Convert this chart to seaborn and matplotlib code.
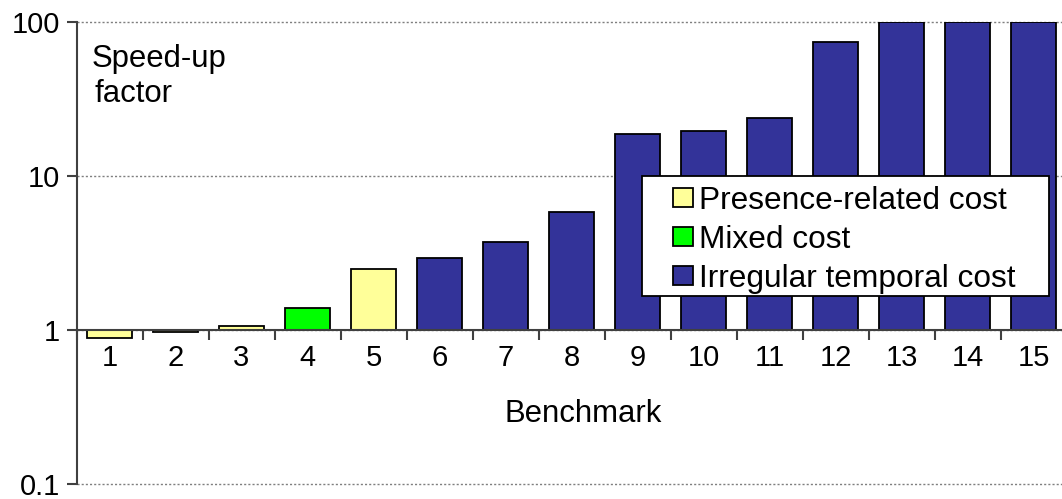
import numpy as np
import pandas as pd
import matplotlib
matplotlib.use("Agg")
import matplotlib.pyplot as plt
from matplotlib.patches import Rectangle
import seaborn as sns

# Benchmark results
benchmarks = [str(i) for i in range(1, 16)]
speedup = [0.89, 0.97, 1.06, 1.38, 2.5, 2.95, 3.7, 5.85, 18.7, 19.5, 23.8, 74, 100, 100, 100]
cost_type = ["Presence-related cost", "Presence-related cost", "Presence-related cost",
             "Mixed cost", "Presence-related cost",
             "Irregular temporal cost", "Irregular temporal cost", "Irregular temporal cost",
             "Irregular temporal cost", "Irregular temporal cost", "Irregular temporal cost",
             "Irregular temporal cost", "Irregular temporal cost", "Irregular temporal cost",
             "Irregular temporal cost"]
cost_order = ["Presence-related cost", "Mixed cost", "Irregular temporal cost"]
cost_colors = ["#FFFF99", "#00FF00", "#333399"]
y_tick_values = [0.1, 1, 10, 100]
y_tick_labels = ["0.1", "1", "10", "100"]

df = pd.DataFrame({"benchmark": benchmarks, "speedup": speedup, "cost": cost_type})
# bars rise or fall from a speed-up factor of 1 on a logarithmic axis
df["log_speedup"] = np.log10(df["speedup"])

sns.set_theme(style="white")
plt.rcParams["font.family"] = ["Liberation Sans", "DejaVu Sans"]
plt.rcParams["text.color"] = "black"
plt.rcParams["xtick.color"] = "black"
plt.rcParams["ytick.color"] = "black"
FS = 22.4
LEG_FS = 22.8
TICK_FS = 21

W, H = 1062, 499
fig = plt.figure(figsize=(W / 100, H / 100), dpi=100)
ax_left, ax_top, ax_bottom = 76.5, 22, 484
ax = fig.add_axes([ax_left / W, (H - ax_bottom) / H, 990 / W, (ax_bottom - ax_top) / H])


def axes_xy(px, py):
    """Pixel position (from the top-left corner) to axes fraction."""
    return (px - ax_left) / 990, (ax_bottom - py) / (ax_bottom - ax_top)


sns.barplot(data=df, x="benchmark", y="log_speedup", hue="cost",
            hue_order=cost_order, palette=cost_colors, dodge=False,
            width=0.68, edgecolor="black", linewidth=1.3, saturation=1,
            ax=ax, zorder=3)

ax.set_ylim(np.log10(y_tick_values[0]), np.log10(y_tick_values[-1]))
ax.set_xlim(-0.5, len(benchmarks) - 0.5)

# dotted reference lines at each decade
for v in y_tick_values:
    ax.axhline(np.log10(v), color="#7f7f7f", linestyle=(0, (1.5, 1.5)),
               linewidth=1.0, zorder=1, clip_on=False)

ax.set_yticks(np.log10(y_tick_values))
ax.set_yticklabels(y_tick_labels)
ax.tick_params(axis="y", direction="out", length=7, width=1.5, color="#404040",
               labelsize=TICK_FS, pad=5, left=True)

ax.set_xticks(range(len(benchmarks)))
ax.set_xticklabels(benchmarks)
ax.tick_params(axis="x", which="major", length=0, labelsize=TICK_FS, pad=10)
ax.set_xticks(np.arange(-0.5, len(benchmarks), 1.0), minor=True)
ax.tick_params(axis="x", which="minor", direction="out", length=7, width=1.5,
               color="#404040", bottom=True)

for side in ["top", "right"]:
    ax.spines[side].set_visible(False)
ax.spines["bottom"].set_position(("data", 0))
for side in ["left", "bottom"]:
    ax.spines[side].set_color("#404040")
    ax.spines[side].set_linewidth(1.5)
    ax.spines[side].set_zorder(4)

ax.set_xlabel("")
ax.set_ylabel("")
ax.text(*axes_xy(583, 422), "Benchmark", transform=ax.transAxes,
        ha="center", va="baseline", fontsize=FS)
ax.text(*axes_xy(91.5, 67), "Speed-up", transform=ax.transAxes,
        ha="left", va="baseline", fontsize=FS)
ax.text(*axes_xy(94.5, 102), "factor", transform=ax.transAxes,
        ha="left", va="baseline", fontsize=FS)

# legend box
ax.add_patch(Rectangle((642 / W, 1 - 296 / H), 407 / W, 120 / H,
                       transform=fig.transFigure, facecolor="white",
                       edgecolor="black", linewidth=1.3, zorder=4.5, clip_on=False))
handles, labels = ax.get_legend_handles_labels()
leg = ax.legend(handles, labels, loc="upper left",
                bbox_to_anchor=(673 / W, 1 - 186 / H), bbox_transform=fig.transFigure,
                fontsize=LEG_FS, frameon=False, handlelength=0.63, handleheight=0.55,
                handletextpad=0.2, labelspacing=0.28, borderpad=0,
                borderaxespad=0)
leg.set_zorder(6)

fig.savefig("out.png", dpi=100)
